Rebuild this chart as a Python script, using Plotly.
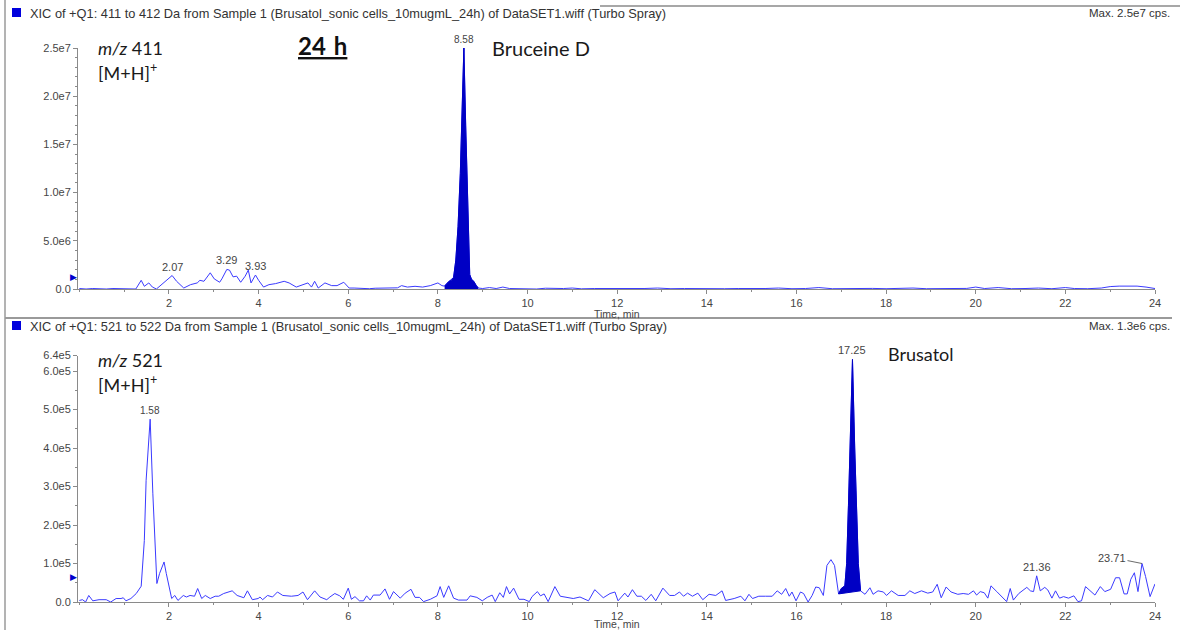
import numpy as np
import plotly.graph_objects as go

W, H = 1182, 630

# ---------------- data ----------------
# Top XIC: m/z 411 (times in min, intensity in 1e6 cps)
TOP_T = [0.0, 0.15, 0.3, 0.45, 0.6, 0.75, 0.9, 1.04, 1.15, 1.26, 1.38, 1.45, 1.55, 1.63, 1.72, 1.87,
         2.07, 2.17, 2.33, 2.48, 2.63, 2.69, 2.78, 2.92, 3.01, 3.13, 3.18, 3.29, 3.35, 3.43, 3.51, 3.6,
         3.7, 3.77, 3.83, 3.93, 4.0, 4.11, 4.23, 4.38, 4.57, 4.68, 4.84, 4.99, 5.1, 5.18, 5.25, 5.33,
         5.48, 5.63, 5.75, 5.9, 6.02, 6.13, 6.3, 6.47, 6.6, 6.73, 6.85, 6.98, 7.1, 7.19, 7.32, 7.49,
         7.66, 7.83, 8.0, 8.09, 8.15, 8.2, 8.25, 8.3, 8.35, 8.4, 8.45, 8.5, 8.54, 8.58, 8.62, 8.66,
         8.69, 8.71, 8.75, 8.8, 8.85, 8.9, 9.0, 9.15, 9.3, 9.45, 9.6, 9.8, 10.0, 10.2, 10.4, 10.6,
         10.8, 11.0, 11.2, 11.5, 11.8, 12.0, 12.3, 12.6, 12.9, 13.2, 13.5, 13.8, 14.1, 14.4, 14.7,
         15.0, 15.3, 15.6, 15.9, 16.2, 16.5, 16.8, 17.1, 17.4, 17.7, 18.0, 18.3, 18.6, 18.9, 19.2,
         19.5, 19.8, 20.0, 20.2, 20.5, 20.8, 21.1, 21.4, 21.7, 22.0, 22.2, 22.5, 22.8, 23.0, 23.2,
         23.4, 23.6, 23.8, 24.0]
TOP_I_E6 = [0.05, 0.0, 0.05, 0.02, 0.0, 0.05, 0.03, 0.0, 0.05, 0.0, 0.9, 0.28, 0.63, 0.2, 0.0, 0.63,
            1.4, 0.8, 0.1, 0.45, 0.63, 0.9, 0.8, 1.68, 1.05, 0.7, 1.05, 2.03, 1.96, 1.26, 1.33, 0.7,
            1.33, 1.96, 0.63, 1.45, 0.9, 0.2, 0.45, 0.56, 0.8, 0.63, 0.2, 0.45, 0.63, 0.2, 0.8, 0.1,
            0.63, 0.35, 0.35, 0.7, 0.1, 0.1, 0.05, 0.03, 0.08, 0.1, 0.05, 0.07, 0.12, 0.35, 0.2, 0.28,
            0.2, 0.35, 0.63, 0.35, 0.3, 0.6, 0.8, 0.9, 1.2, 3.0, 6.5, 12.0, 18.0, 25.0, 17.0, 10.0,
            4.0, 1.5, 1.0, 0.8, 0.4, 0.1, 0.05, 0.15, 0.05, 0.2, 0.05, 0.02, 0.05, 0.0, 0.08, 0.03,
            0.05, 0.1, 0.02, 0.05, 0.03, 0.08, 0.02, 0.05, 0.1, 0.03, 0.05, 0.02, 0.06, 0.03, 0.05,
            0.02, 0.05, 0.1, 0.03, 0.05, 0.15, 0.03, 0.05, 0.02, 0.06, 0.03, 0.05, 0.1, 0.03, 0.05,
            0.02, 0.06, 0.2, 0.05, 0.15, 0.03, 0.05, 0.1, 0.03, 0.15, 0.05, 0.03, 0.1, 0.25, 0.3,
            0.28, 0.3, 0.2, 0.05]
TOP_PEAK_WINDOW = (8.15, 8.9)

# Bottom XIC: m/z 521 (times in min, intensity in 1e5 cps)
BOT_T = [0.0, 0.07, 0.14, 0.21, 0.3, 0.44, 0.6, 0.7, 0.82, 0.93, 0.98, 1.04, 1.15, 1.27, 1.38, 1.45,
         1.49, 1.58, 1.64, 1.68, 1.73, 1.79, 1.89, 1.94, 1.99, 2.06, 2.13, 2.2, 2.32, 2.39, 2.47, 2.57,
         2.64, 2.73, 2.81, 2.92, 3.03, 3.11, 3.22, 3.41, 3.52, 3.67, 3.75, 3.86, 3.99, 4.03, 4.09, 4.2,
         4.31, 4.42, 4.54, 4.73, 4.88, 4.99, 5.09, 5.25, 5.37, 5.52, 5.59, 5.7, 5.81, 5.89, 6.0, 6.07,
         6.15, 6.25, 6.34, 6.41, 6.49, 6.56, 6.71, 6.82, 6.92, 7.01, 7.16, 7.27, 7.4, 7.49, 7.59, 7.68,
         7.83, 7.98, 8.05, 8.13, 8.24, 8.35, 8.46, 8.65, 8.72, 8.87, 8.99, 9.1, 9.21, 9.28, 9.38, 9.46,
         9.53, 9.6, 9.69, 9.81, 9.92, 10.04, 10.1, 10.22, 10.29, 10.37, 10.46, 10.61, 10.73, 10.88,
         11.02, 11.17, 11.36, 11.5, 11.69, 11.84, 11.95, 12.02, 12.17, 12.24, 12.34, 12.44, 12.54,
         12.64, 12.76, 12.86, 13.02, 13.17, 13.28, 13.39, 13.48, 13.57, 13.68, 13.8, 13.91, 14.05,
         14.2, 14.34, 14.42, 14.61, 14.76, 14.85, 14.94, 15.02, 15.16, 15.31, 15.46, 15.57, 15.67,
         15.76, 15.84, 15.9, 15.99, 16.09, 16.16, 16.26, 16.35, 16.43, 16.51, 16.6, 16.68, 16.77,
         16.85, 16.94, 17.0, 17.08, 17.12, 17.16, 17.2, 17.25, 17.3, 17.34, 17.38, 17.43, 17.53,
         17.64, 17.71, 17.82, 17.94, 18.01, 18.12, 18.27, 18.42, 18.53, 18.64, 18.79, 18.93, 19.04,
         19.14, 19.23, 19.34, 19.45, 19.6, 19.72, 19.84, 19.95, 20.02, 20.1, 20.19, 20.27, 20.34,
         20.47, 20.58, 20.69, 20.77, 20.84, 20.96, 21.07, 21.14, 21.22, 21.29, 21.36, 21.44, 21.54,
         21.61, 21.7, 21.78, 21.87, 21.96, 22.07, 22.19, 22.28, 22.36, 22.45, 22.56, 22.66, 22.78,
         22.88, 23.01, 23.12, 23.21, 23.31, 23.38, 23.46, 23.54, 23.62, 23.71, 23.79, 23.89, 24.0]
BOT_I_E5 = [0.04, 0.06, 0.0, 0.17, 0.03, 0.06, 0.06, 0.0, 0.09, 0.09, 0.11, 0.03, 0.09, 0.22, 0.41, 1.6,
            3.16, 4.75, 2.81, 1.6, 0.48, 0.74, 1.04, 0.74, 0.43, 0.09, 0.17, 0.04, 0.17, 0.13, 0.17, 0.15,
            0.35, 0.09, 0.17, 0.09, 0.15, 0.15, 0.22, 0.29, 0.17, 0.11, 0.29, 0.06, 0.09, 0.13, 0.06, 0.17,
            0.13, 0.26, 0.17, 0.15, 0.17, 0.26, 0.06, 0.29, 0.13, 0.06, 0.13, 0.22, 0.16, 0.07, 0.36, 0.07,
            0.14, 0.03, 0.03, 0.16, 0.05, 0.18, 0.18, 0.34, 0.07, 0.27, 0.1, 0.23, 0.33, 0.12, 0.12, 0.01,
            0.07, 0.16, 0.4, 0.12, 0.42, 0.1, 0.05, 0.05, 0.16, 0.12, 0.03, 0.12, 0.18, 0.01, 0.24, 0.12,
            0.4, 0.21, 0.36, 0.07, 0.07, 0.01, 0.14, 0.27, 0.16, 0.21, 0.01, 0.4, 0.15, 0.11,
            0.09, 0.13, 0.03, 0.32, 0.11, 0.22, 0.26, 0.03, 0.23, 0.13, 0.32, 0.15, 0.15,
            0.04, 0.2, 0.03, 0.36, 0.17, 0.17, 0.26, 0.15, 0.23, 0.15, 0.23, 0.06, 0.2,
            0.17, 0.29, 0.04, 0.09, 0.15, 0.03, 0.2, 0.09, 0.15, 0.15, 0.15, 0.29, 0.2,
            0.35, 0.15, 0.26, 0.03, 0.26, 0.22, 0.0, 0.17, 0.39, 0.37, 0.17, 0.95, 1.1,
            0.95, 0.21, 0.35, 0.42, 1.0, 2.5, 4.2, 6.3, 4.0, 2.3, 1.0, 0.29, 0.2,
            0.37, 0.2, 0.29, 0.26, 0.17, 0.29, 0.17, 0.17, 0.29, 0.22, 0.29, 0.23, 0.26,
            0.46, 0.11, 0.39, 0.26, 0.2, 0.22, 0.2, 0.29, 0.18, 0.27, 0.24, 0.1, 0.42,
            0.27, 0.14, 0.01, 0.35, 0.05, 0.22, 0.31, 0.38, 0.29, 0.27, 0.68, 0.29, 0.38,
            0.31, 0.1, 0.29, 0.1, 0.14, 0.1, 0.16, 0.01, 0.03, 0.4, 0.29, 0.18, 0.4,
            0.27, 0.33, 0.63, 0.63, 0.21, 0.21, 0.59, 0.76, 0.27, 1.0, 0.66, 0.14, 0.47]
BOT_PEAK_WINDOW = (16.94, 17.43)

X_TICKS = [2, 4, 6, 8, 10, 12, 14, 16, 18, 20, 22, 24]
TOP_YTICKS = [0, 5e6, 1e7, 1.5e7, 2e7, 2.5e7]
TOP_YTEXT = ["0.0", "5.0e6", "1.0e7", "1.5e7", "2.0e7", "2.5e7"]
BOT_YTICKS = [0, 1e5, 2e5, 3e5, 4e5, 5e5, 6e5, 6.4e5]
BOT_YTEXT = ["0.0", "1.0e5", "2.0e5", "3.0e5", "4.0e5", "5.0e5", "6.0e5", "6.4e5"]
X_TITLE = "Time, min"

TOP_PEAK_LABELS = [2.07, 3.29, 3.93, 8.58]
BOT_PEAK_LABELS = [1.58, 17.25, 21.36]
BOT_PEAK_LABEL_LEADER = 23.71

HEADER_TOP = "XIC of +Q1: 411 to 412 Da from Sample 1 (Brusatol_sonic cells_10mugmL_24h) of DataSET1.wiff (Turbo Spray)"
HEADER_BOT = "XIC of +Q1: 521 to 522 Da from Sample 1 (Brusatol_sonic cells_10mugmL_24h) of DataSET1.wiff (Turbo Spray)"
MAX_TOP = "Max. 2.5e7 cps."
MAX_BOT = "Max. 1.3e6 cps."
TOP_MARKER_LEVEL = 1.2e6
BOT_MARKER_LEVEL = 0.65e5

# ---------------- helpers ----------------
def px_x(p):
    return p / W

def px_y(p):
    return 1 - p / H

top_t = np.array(TOP_T)
top_i = np.array(TOP_I_E6) * 1e6
bot_t = np.array(BOT_T)
bot_i = np.array(BOT_I_E5) * 1e5

LINE_C = "#3a3aff"
FILL_C = "#0000c4"
AX_C = "#8a8a8a"
TXT_C = "#454545"
LABEL_FONT = "Lato, Open Sans, sans-serif"
UI_FONT = "Liberation Sans, Arial, sans-serif"

fig = go.Figure()

# top trace
fig.add_trace(go.Scatter(x=top_t, y=top_i, mode="lines", line=dict(color=LINE_C, width=1),
                         xaxis="x", yaxis="y", hoverinfo="skip"))
m = (top_t >= TOP_PEAK_WINDOW[0]) & (top_t <= TOP_PEAK_WINDOW[1])
fig.add_trace(go.Scatter(x=top_t[m], y=top_i[m], mode="lines", fill="tozeroy",
                         fillcolor=FILL_C, line=dict(color=FILL_C, width=1),
                         xaxis="x", yaxis="y", hoverinfo="skip"))

# bottom trace
fig.add_trace(go.Scatter(x=bot_t, y=bot_i, mode="lines", line=dict(color=LINE_C, width=1),
                         xaxis="x2", yaxis="y2", hoverinfo="skip"))
mb = (bot_t >= BOT_PEAK_WINDOW[0] - 1e-9) & (bot_t <= BOT_PEAK_WINDOW[1] + 1e-9)
seg_t, seg_i = bot_t[mb], bot_i[mb]
fig.add_trace(go.Scatter(x=[seg_t[0], seg_t[-1]], y=[seg_i[0], seg_i[-1]], mode="lines",
                         line=dict(color=FILL_C, width=1), xaxis="x2", yaxis="y2", hoverinfo="skip"))
fig.add_trace(go.Scatter(x=seg_t, y=seg_i, mode="lines", fill="tonexty", fillcolor=FILL_C,
                         line=dict(color=FILL_C, width=1), xaxis="x2", yaxis="y2", hoverinfo="skip"))

xdom = [px_x(78), px_x(1155)]
xr = [-0.03, 24.0]
common_x = dict(range=xr, domain=xdom, showgrid=False, zeroline=False, showline=True,
                linecolor=AX_C, linewidth=1, ticks="outside", ticklen=4, tickcolor=AX_C,
                tickvals=X_TICKS, ticktext=[str(v) for v in X_TICKS],
                tickfont=dict(family=UI_FONT, size=11, color=TXT_C),
                minor=dict(dtick=1, tick0=0, ticks="outside", ticklen=2, tickcolor=AX_C),
                automargin=False, fixedrange=True)
common_y = dict(showgrid=False, zeroline=False, showline=True, linecolor=AX_C, linewidth=1,
                ticks="outside", ticklen=4, tickcolor=AX_C, automargin=False,
                tickfont=dict(family=UI_FONT, size=11, color=TXT_C), fixedrange=True)

fig.update_layout(
    template="none",
    width=W, height=H, margin=dict(l=0, r=0, t=0, b=0, pad=0), autosize=False,
    paper_bgcolor="white", plot_bgcolor="white", showlegend=False,
    xaxis=dict(**common_x, anchor="y"),
    xaxis2=dict(**common_x, anchor="y2"),
    yaxis=dict(**common_y, anchor="x", range=[0, 2.5e7], domain=[px_y(289), px_y(48)],
               tickvals=TOP_YTICKS, ticktext=TOP_YTEXT,
               minor=dict(dtick=1e6, ticks="outside", ticklen=2, tickcolor=AX_C)),
    yaxis2=dict(**common_y, anchor="x2", range=[0, 6.4e5], domain=[px_y(602), px_y(355.6)],
                tickvals=BOT_YTICKS, ticktext=BOT_YTEXT,
                minor=dict(dtick=0.5e5, ticks="outside", ticklen=2, tickcolor=AX_C)),
)

ann = []
# peak labels
def val_at(t_arr, i_arr, t):
    return float(i_arr[np.argmin(np.abs(t_arr - t))])

for t in TOP_PEAK_LABELS:
    ann.append(dict(x=t, y=val_at(top_t, top_i, t), xref="x", yref="y", text=f"{t:.2f}",
                    showarrow=False, yanchor="bottom", yshift=1,
                    font=dict(family=UI_FONT, size=11 if t != 8.58 else 10, color=TXT_C)))
for t in BOT_PEAK_LABELS:
    ann.append(dict(x=t, y=val_at(bot_t, bot_i, t), xref="x2", yref="y2", text=f"{t:.2f}",
                    showarrow=False, yanchor="bottom", yshift=1,
                    font=dict(family=UI_FONT, size=11 if t != 1.58 else 10, color=TXT_C)))
ann.append(dict(x=BOT_PEAK_LABEL_LEADER, y=val_at(bot_t, bot_i, BOT_PEAK_LABEL_LEADER),
                xref="x2", yref="y2", text=f"{BOT_PEAK_LABEL_LEADER:.2f}", showarrow=True,
                arrowhead=0, arrowwidth=0.8, arrowcolor=TXT_C, ax=-30, ay=-6,
                font=dict(family=UI_FONT, size=11, color=TXT_C)))

# axis titles as annotations (exact placement)
for xr_, yp in [("x domain", 313.5), ("x2 domain", 624)]:
    ann.append(dict(x=0.5, y=px_y(yp), xref=xr_, yref="paper", xanchor="center", yanchor="middle",
                    text=X_TITLE, showarrow=False, font=dict(family=UI_FONT, size=10.5, color=TXT_C)))

# compound labels
big = dict(family=LABEL_FONT, size=18, color="#1a1a1a")
ann += [
    dict(x=px_x(96), y=px_y(48), xref="paper", yref="paper", xanchor="left", yanchor="middle",
         text="<i>m/z</i> 411", showarrow=False, font=big),
    dict(x=px_x(96), y=px_y(72), xref="paper", yref="paper", xanchor="left", yanchor="middle",
         text="[M+H]<sup>+</sup>", showarrow=False, font=big),
    dict(x=px_x(296), y=px_y(46), xref="paper", yref="paper", xanchor="left", yanchor="middle",
         text="<b><u>24\u2004h</u></b>", showarrow=False, font=dict(family=LABEL_FONT, size=24, color="#111")),
    dict(x=px_x(490), y=px_y(48), xref="paper", yref="paper", xanchor="left", yanchor="middle",
         text="Bruceine D", showarrow=False, font=dict(family=LABEL_FONT, size=20, color="#1a1a1a")),
    dict(x=px_x(96), y=px_y(360), xref="paper", yref="paper", xanchor="left", yanchor="middle",
         text="<i>m/z</i> 521", showarrow=False, font=big),
    dict(x=px_x(96), y=px_y(384), xref="paper", yref="paper", xanchor="left", yanchor="middle",
         text="[M+H]<sup>+</sup>", showarrow=False, font=big),
    dict(x=px_x(886), y=px_y(354), xref="paper", yref="paper", xanchor="left", yanchor="middle",
         text="Brusatol", showarrow=False, font=dict(family=LABEL_FONT, size=18, color="#1a1a1a")),
]
# headers
hf = dict(family=UI_FONT, size=12.8, color="#333")
mf = dict(family=UI_FONT, size=11.5, color="#333")
ann += [
    dict(x=px_x(28), y=px_y(13), xref="paper", yref="paper", xanchor="left", yanchor="middle",
         text=HEADER_TOP, showarrow=False, font=hf),
    dict(x=px_x(1172), y=px_y(13), xref="paper", yref="paper", xanchor="right", yanchor="middle",
         text=MAX_TOP, showarrow=False, font=mf),
    dict(x=px_x(28), y=px_y(326), xref="paper", yref="paper", xanchor="left", yanchor="middle",
         text=HEADER_BOT, showarrow=False, font=hf),
    dict(x=px_x(1172), y=px_y(326), xref="paper", yref="paper", xanchor="right", yanchor="middle",
         text=MAX_BOT, showarrow=False, font=mf),
]
# left-axis markers
for yref, xref, lvl in [("y", "x domain", TOP_MARKER_LEVEL), ("y2", "x2 domain", BOT_MARKER_LEVEL)]:
    ann.append(dict(x=0, y=lvl, xref=xref, yref=yref, xanchor="right", yanchor="middle",
                    text="\u25B6", showarrow=False, xshift=1,
                    font=dict(family="DejaVu Sans", size=9, color="#0000cc")))
fig.update_layout(annotations=ann)

shapes = [
    # frame lines
    dict(type="line", xref="paper", yref="paper", x0=px_x(5), x1=px_x(5), y0=px_y(0), y1=px_y(630),
         line=dict(color="#9a9a9a", width=1.5)),
    dict(type="line", xref="paper", yref="paper", x0=px_x(600), x1=px_x(1180), y0=px_y(6), y1=px_y(6),
         line=dict(color="#8a8a8a", width=1.5)),
    dict(type="line", xref="paper", yref="paper", x0=px_x(5), x1=px_x(1172), y0=px_y(318), y1=px_y(318),
         line=dict(color="#9a9a9a", width=2)),
    # header squares
    dict(type="rect", xref="paper", yref="paper", x0=px_x(12), x1=px_x(21), y0=px_y(17), y1=px_y(8),
         fillcolor="#0000dd", line=dict(width=0)),
    dict(type="rect", xref="paper", yref="paper", x0=px_x(12), x1=px_x(21), y0=px_y(330), y1=px_y(321),
         fillcolor="#0000dd", line=dict(width=0)),
]
fig.update_layout(shapes=shapes)

fig.write_html("out.html", config={"displayModeBar": False},
               post_script="document.body.style.margin='0';document.body.style.overflow='hidden';")
